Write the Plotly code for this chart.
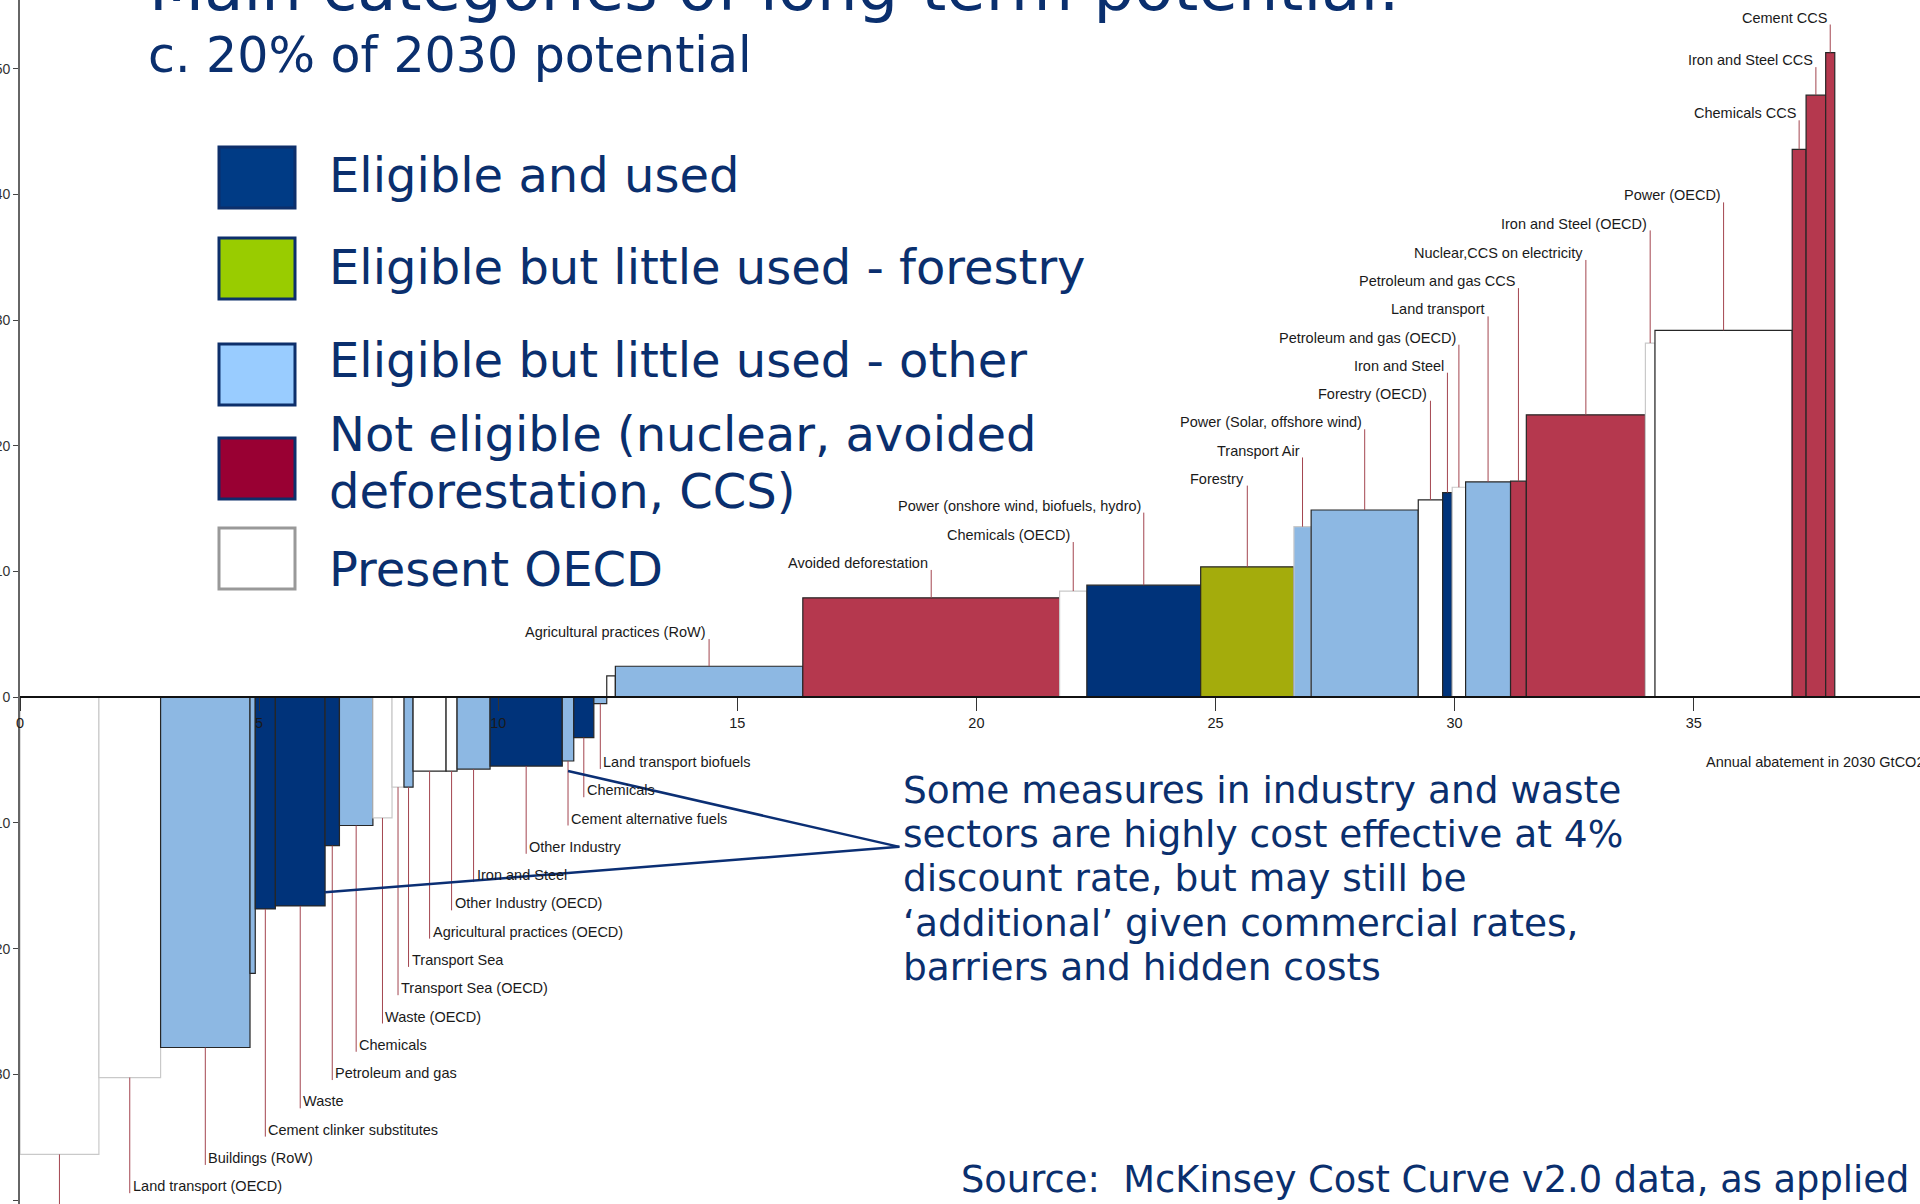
import numpy as np
import plotly.graph_objects as go

# ---------------- data ----------------
# width of each measure (GtCO2 abated in 2030), left to right
widths = [1.65, 1.29, 1.87, 0.11, 0.42, 1.04, 0.30, 0.70, 0.40, 0.25,
          0.19, 0.69, 0.23, 0.69, 1.51, 0.24, 0.42, 0.27, 0.18, 3.92,
          5.37, 0.57, 2.38, 1.95, 0.36, 2.24, 0.51, 0.20, 0.28, 0.94,
          0.33, 2.49, 0.20, 2.87, 0.29, 0.41, 0.19]
# cost of each measure (bar height)
costs = [-36.36, -30.25, -27.86, -21.97, -16.84, -16.60, -11.80, -10.20, -9.60, -7.15,
         -7.15, -5.87, -5.87, -5.71, -5.47, -5.07, -3.21, -0.50, 1.70, 2.47,
         7.91, 8.45, 8.92, 10.38, 13.57, 14.90, 15.70, 16.28, 16.71, 17.13,
         17.19, 22.47, 28.18, 29.19, 43.59, 47.90, 51.29]
# category of each measure
cats = ["PO", "PO", "EO", "EO", "EU", "EU", "EU", "EO", "PO", "PO",
        "EO", "PO", "PO", "EO", "EU", "EO", "EU", "EO", "PO", "EO",
        "NE", "PO", "EU", "EF", "EO", "EO", "PO", "EU", "PO", "EO",
        "NE", "NE", "PO", "PO", "NE", "NE", "NE"]
labels = ["", "Land transport (OECD)", "Buildings (RoW)", "", "Cement clinker substitutes",
          "Waste", "Petroleum and gas", "Chemicals", "Waste (OECD)", "Transport Sea (OECD)",
          "Transport Sea", "Agricultural practices (OECD)", "Other Industry (OECD)", "Iron and Steel",
          "Other Industry", "Cement alternative fuels", "Chemicals", "Land transport biofuels", "",
          "Agricultural practices (RoW)", "Avoided deforestation", "Chemicals (OECD)",
          "Power (onshore wind, biofuels, hydro)", "Forestry", "Transport Air",
          "Power (Solar, offshore wind)", "Forestry (OECD)", "Iron and Steel",
          "Petroleum and gas (OECD)", "Land transport", "Petroleum and gas CCS",
          "Nuclear,CCS on electricity", "Iron and Steel (OECD)", "Power (OECD)",
          "Chemicals CCS", "Iron and Steel CCS", "Cement CCS"]
# height at which each label sits (None = no label / leader)
label_y = [-41.5, -38.90, -36.65, None, -34.40, -32.15, -29.90, -27.65, -25.40, -23.15,
           -20.90, -18.65, -16.40, -14.15, -11.90, -9.65, -7.40, -5.15, None, 5.18,
           10.68, 12.90, 15.24, 17.39, 19.63, 21.87, 24.14, 26.37, 28.60, 30.85,
           33.10, 35.34, 37.69, 39.92, 46.45, 50.68, 54.07]

x_ticks = [0, 5, 10, 15, 20, 25, 30, 35]
y_ticks = [-40, -30, -20, -10, 0, 10, 20, 30, 40, 50]

legend_names = ["Eligible and used", "Eligible but little used - forestry",
                "Eligible but little used - other",
                "Not eligible (nuclear, avoided<br>deforestation, CCS)", "Present OECD"]

title_top = "Main categories of long-term potential:"
subtitle = "c. 20% of 2030 potential"
callout_lines = ["Some measures in industry and waste",
                 "sectors are highly cost effective at 4%",
                 "discount rate, but may still be",
                 "\u2018additional\u2019 given commercial rates,",
                 "barriers and hidden costs"]
source_text = "Source:  McKinsey Cost Curve v2.0 data, as applied"
x_title = "Annual abatement in 2030 GtCO2"

# ---------------- styles ----------------
W, H = 1920, 1204
PLOT_L = 20
XMAX = (W - PLOT_L) / 47.82
YMIN, YMAX = -40.31, 55.47

bar_fill = {"EU": "#00337a", "EF": "#a4ac0c", "EO": "#8db8e3", "NE": "#b5384e", "PO": "#ffffff"}
legend_fill = {"EU": "#003b85", "EF": "#99cc00", "EO": "#99ccff", "NE": "#990033", "PO": "#ffffff"}
legend_order = ["EU", "EF", "EO", "NE", "PO"]
light_edge = {0, 1, 8, 9, 21, 24, 28, 32}   # bars drawn with a pale outline
NAVY = "#0a2f6e"
LEADER = "#a3454f"
NARROW = "Liberation Sans, Arial, sans-serif"
WIDE = "DejaVu Sans, Verdana, sans-serif"


def pxx(p):
    return (p - PLOT_L) / (W - PLOT_L)


def pxy(p):
    return 1 - p / H


w = np.array(widths)
left = np.concatenate([[0.0], np.cumsum(w)[:-1]])
mids = left + w / 2

fig = go.Figure()

edge_cols = ["#c9c9c9" if i in light_edge else "#262626" for i in range(len(costs))]
fig.add_trace(go.Bar(
    x=mids, y=costs, width=w,
    marker=dict(color=[bar_fill[c] for c in cats],
                line=dict(color=edge_cols, width=1.2)),
    showlegend=False, hoverinfo="skip"))

# leader lines
lx, ly = [], []
for m, c, yl in zip(mids, costs, label_y):
    if yl is None:
        continue
    lx += [m, m, None]
    ly += [c, yl - 0.55, None]
fig.add_trace(go.Scatter(x=lx, y=ly, mode="lines",
                         line=dict(color=LEADER, width=1),
                         showlegend=False, hoverinfo="skip"))

annotations = []
for m, c, yl, t in zip(mids, costs, label_y, labels):
    if yl is None or not t:
        continue
    annotations.append(dict(
        x=m, y=yl, xref="x", yref="y", text=t, showarrow=False,
        xanchor="right" if c > 0 else "left", yanchor="middle",
        xshift=-1 if c > 0 else 1,
        font=dict(family=NARROW, size=14.5, color="#1a1a1a")))

# title texts
annotations.append(dict(x=pxx(147), y=pxy(-11.6), xref="paper", yref="paper",
                        text=title_top, showarrow=False, xanchor="left", yanchor="middle",
                        font=dict(family=WIDE, size=64, color=NAVY)))
annotations.append(dict(x=pxx(146), y=pxy(55), xref="paper", yref="paper",
                        text=subtitle, showarrow=False, xanchor="left", yanchor="middle",
                        font=dict(family=WIDE, size=49, color=NAVY)))

# legend
shapes = []
box_tops = [147, 238, 344, 438, 528]
text_centres = [[175.5], [267], [360], [434, 491], [568.7]]
for key, name, top, cy in zip(legend_order, legend_names, box_tops, text_centres):
    shapes.append(dict(type="rect", xref="paper", yref="paper",
                       x0=pxx(219), x1=pxx(295), y0=pxy(top), y1=pxy(top + 61),
                       fillcolor=legend_fill[key],
                       line=dict(color="#999999" if key == "PO" else "#0d2f6b", width=3)))
    for part, yy in zip(name.split("<br>"), cy):
        annotations.append(dict(x=pxx(327), y=pxy(yy), xref="paper", yref="paper",
                                text=part, showarrow=False, xanchor="left", yanchor="middle",
                                font=dict(family=WIDE, size=48, color=NAVY)))

# callout text
for i, line in enumerate(callout_lines):
    annotations.append(dict(x=pxx(901), y=pxy(790 + 44.2 * i), xref="paper", yref="paper",
                            text=line, showarrow=False, xanchor="left", yanchor="middle",
                            font=dict(family=WIDE, size=37.5, color=NAVY)))
# callout pointer lines
apex = (18.39, -11.9)
for end in [(11.46, -5.87), (6.38, -15.51)]:
    shapes.append(dict(type="line", xref="x", yref="y",
                       x0=apex[0], y0=apex[1], x1=end[0], y1=end[1],
                       line=dict(color="#0b2f74", width=2.5)))

annotations.append(dict(x=pxx(959), y=pxy(1179), xref="paper", yref="paper",
                        text=source_text, showarrow=False, xanchor="left", yanchor="middle",
                        font=dict(family=WIDE, size=36.8, color=NAVY)))
annotations.append(dict(x=pxx(1704), y=pxy(762), xref="paper", yref="paper",
                        text=x_title, showarrow=False, xanchor="left", yanchor="middle",
                        font=dict(family=NARROW, size=14.5, color="#1a1a1a")))

fig.update_layout(
    width=W, height=H,
    margin=dict(l=PLOT_L, r=0, t=0, b=0, autoexpand=False),
    paper_bgcolor="white", plot_bgcolor="white",
    showlegend=False,
    xaxis=dict(range=[0, XMAX], anchor="free", position=(0 - YMIN) / (YMAX - YMIN),
               tickvals=x_ticks, ticks="outside", ticklen=13, tickcolor="#333333",
               showline=True, linecolor="#111111", linewidth=1.5,
               showgrid=False, zeroline=False,
               tickfont=dict(family=NARROW, size=14.5, color="#1a1a1a")),
    yaxis=dict(range=[YMIN, YMAX], tickvals=y_ticks, ticks="outside", ticklen=5,
               tickcolor="#444444", showline=True, linecolor="#666666", linewidth=2,
               showgrid=False, zeroline=False, automargin=False,
               tickfont=dict(family="Liberation Sans, sans-serif", size=14, color="#333333")),
    annotations=annotations,
    shapes=shapes,
)

fig.write_html("out.html", config={"displayModeBar": False},
               post_script="document.body.style.margin='0';")
